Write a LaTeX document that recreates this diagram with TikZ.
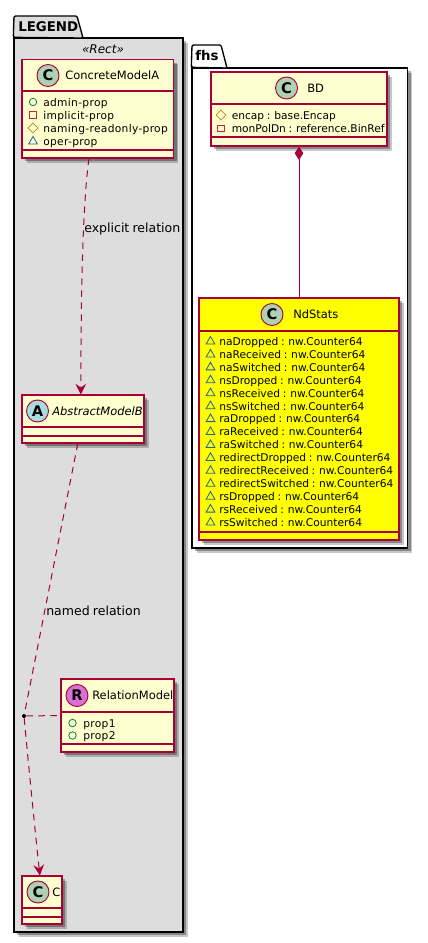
\documentclass[tikz,border=0pt]{standalone}
\usepackage{fontspec}
\setmainfont{DejaVu Sans}[WordSpace=0.8]
\usepackage{xcolor}
\usetikzlibrary{arrows.meta,calc,positioning,shadows,shapes.geometric}
\definecolor{umlred}{HTML}{A80036}
\definecolor{umlfill}{HTML}{FEFECE}
\definecolor{pkggray}{HTML}{DDDDDD}
\definecolor{badgeclass}{HTML}{ADD1B2}
\definecolor{badgeabs}{HTML}{A9DCDF}
\definecolor{badgerel}{HTML}{DA70D6}
\definecolor{pubgreen}{HTML}{038048}
\definecolor{privred}{HTML}{C82930}
\definecolor{protgold}{HTML}{B38D22}
\definecolor{pkgblue}{HTML}{1963A0}
\definecolor{ndyellow}{RGB}{255,255,0}

\begin{document}
\begin{tikzpicture}[
      x=0.75pt, y=-0.75pt,
      softshadow/.style={
        drop shadow={shadow xshift=3.6pt, shadow yshift=-3.6pt, opacity=0.22, fill=black},
        drop shadow={shadow xshift=2.4pt, shadow yshift=-2.4pt, opacity=0.32, fill=black}},
      pkgbox/.style={draw=black, line width=1pt, softshadow},
      pkgtab/.style={draw=black, line width=1pt, rounded corners=1pt},
      pkgname/.style={anchor=west, inner sep=0pt, font=\fontsize{10}{12}\selectfont\bfseries},
      classbox/.style 2 args={draw=umlred, line width=0.8pt, fill=umlfill, softshadow,
        minimum width=#1*0.75pt, minimum height=#2*0.75pt, inner sep=0pt},
      sepline/.style={draw=umlred, line width=0.8pt},
      badge/.style={draw=umlred, line width=0.7pt, circle, minimum size=16.5pt, inner sep=0pt,
        font=\fontsize{11}{11}\selectfont\bfseries},
      classname/.style={anchor=west, inner sep=0pt, font=\fontsize{8.6}{11}\selectfont},
      members/.style={anchor=north west, align=left, inner sep=0pt,
        font=\fontsize{8}{9.7}\selectfont},
      spreadmembers/.style={members, font=\fontsize{8}{9.7}\selectfont\addfontfeature{LetterSpace=3}},
      pubmark/.style={draw=pubgreen, circle, line width=0.6pt, minimum size=5.6pt, inner sep=0pt},
      privmark/.style={draw=privred, rectangle, line width=0.6pt, minimum size=5pt, inner sep=0pt},
      protmark/.style={draw=protgold, diamond, line width=0.6pt, minimum size=7.5pt, inner sep=0pt},
      grpmark/.style={draw=pkgblue, regular polygon, regular polygon sides=3, line width=0.6pt, minimum size=7.6pt, inner sep=0pt},
      rel/.style={draw=umlred, line width=0.75pt},
      dashrel/.style={rel, dash pattern=on 5pt off 4pt},
      openhead/.style={-{Stealth[length=8pt, width=8pt, inset=2.8pt]}},
      rellabel/.style={anchor=west, inner sep=0pt, font=\fontsize{9.4}{11}\selectfont}
    ]
    \useasboundingbox (0,0) rectangle (428,943);

    % LEGEND package
    \node[pkgbox, fill=pkggray, minimum width=169*0.75pt, minimum height=894*0.75pt, inner sep=0pt] (legend) at (98.5,485) {};
    \draw[pkgtab, fill=pkggray] (legend.north west) -- (14,16) -- (77,16) -- (83,38) -- cycle;
    \node[pkgname] (legendname) at (18,27) {LEGEND};
    \node[inner sep=0pt, font=\fontsize{9}{11}\selectfont\itshape] (stereo) at (103,49) {«Rect»};

    % fhs package
    \node[pkgbox, fill=white, minimum width=215.5*0.75pt, minimum height=480*0.75pt, inner sep=0pt] (fhs) at (299.75,308) {};
    \draw[pkgtab, fill=white] (fhs.north west) -- (192,45) -- (221,45) -- (227,68) -- cycle;
    \node[pkgname] (fhsname) at (195,55.5) {fhs};

    % ConcreteModelA
    \node[classbox={151.5}{98.5}] (concretea) at (97.75,108.75) {};
    \draw[sepline] (concretea.west |- 0,91) -- (concretea.east |- 0,91);
    \draw[sepline] (concretea.west |- 0,150) -- (concretea.east |- 0,150);
    \node[badge, fill=badgeclass] (concreteabadge) at (48,75.5) {C};
    \node[classname] (concreteaname) at (65,75.5) {ConcreteModelA};
    \node[pubmark] (concreteapub) at (33,102) {};
    \node[privmark] (concreteapriv) at (33,115) {};
    \node[protmark] (concreteaprot) at (33,128) {};
    \node[grpmark] (concreteagrp) at (33,141.5) {};
    \node[spreadmembers] (concreteamembers) at (43,98) {
      admin-prop\\
      implicit-prop\\
      naming-readonly-prop\\
      oper-prop
    };

    % AbstractModelB
    \node[classbox={122}{48}] (abstractb) at (83,419) {};
    \draw[sepline] (abstractb.west |- 0,427) -- (abstractb.east |- 0,427);
    \draw[sepline] (abstractb.west |- 0,436) -- (abstractb.east |- 0,436);
    \node[badge, fill=badgeabs] (abstractbbadge) at (37.5,411) {A};
    \node[classname, font=\fontsize{8.6}{11}\selectfont\itshape] (abstractbname) at (52,411) {AbstractModelB};

    % RelationModel
    \node[classbox={113}{73}] (relmodel) at (117.5,715.5) {};
    \draw[sepline] (relmodel.west |- 0,712) -- (relmodel.east |- 0,712);
    \draw[sepline] (relmodel.west |- 0,744) -- (relmodel.east |- 0,744);
    \node[badge, fill=badgerel] (relmodelbadge) at (77,695.5) {R};
    \node[classname] (relmodelname) at (92,695.5) {RelationModel};
    \node[pubmark] (relmodelpuba) at (72.5,723) {};
    \node[pubmark] (relmodelpubb) at (72.5,735.5) {};
    \node[spreadmembers] (relmodelmembers) at (83,719) {
      prop1\\
      prop2
    };

    % C
    \node[classbox={40}{48}] (cmodel) at (42,900) {};
    \draw[sepline] (cmodel.west |- 0,908) -- (cmodel.east |- 0,908);
    \draw[sepline] (cmodel.west |- 0,917) -- (cmodel.east |- 0,917);
    \node[badge, fill=badgeclass] (cmodelbadge) at (38,892) {C};
    \node[classname] (cmodelname) at (52,892) {C};

    % BD
    \node[classbox={176}{74}] (bd) at (299,109) {};
    \draw[sepline] (bd.west |- 0,104) -- (bd.east |- 0,104);
    \draw[sepline] (bd.west |- 0,137) -- (bd.east |- 0,137);
    \node[badge, fill=badgeclass] (bdbadge) at (286.5,88) {C};
    \node[classname] (bdname) at (307,88) {BD};
    \node[protmark] (bdprot) at (221,115) {};
    \node[privmark] (bdpriv) at (221,128.5) {};
    \node[members] (bdmembers) at (231.5,111) {
      encap : base.Encap\\
      monPolDn : reference.BinRef
    };

    % NdStats
    \node[classbox={200}{242}, fill=ndyellow] (ndstats) at (299,419) {};
    \draw[sepline] (ndstats.west |- 0,331) -- (ndstats.east |- 0,331);
    \draw[sepline] (ndstats.west |- 0,532) -- (ndstats.east |- 0,532);
    \node[badge, fill=badgeclass] (ndstatsbadge) at (272,314.5) {C};
    \node[classname] (ndstatsname) at (293,314.5) {NdStats};
    \foreach \i in {0,...,14}
      \node[grpmark] (ndstatsgrp\i) at (210.5,{341.5+\i*12.93}) {};
    \node[members] (ndstatsmembers) at (219,337) {
      naDropped : nw.Counter64\\
      naReceived : nw.Counter64\\
      naSwitched : nw.Counter64\\
      nsDropped : nw.Counter64\\
      nsReceived : nw.Counter64\\
      nsSwitched : nw.Counter64\\
      raDropped : nw.Counter64\\
      raReceived : nw.Counter64\\
      raSwitched : nw.Counter64\\
      redirectDropped : nw.Counter64\\
      redirectReceived : nw.Counter64\\
      redirectSwitched : nw.Counter64\\
      rsDropped : nw.Counter64\\
      rsReceived : nw.Counter64\\
      rsSwitched : nw.Counter64
    };

    % relations
    \node[circle, fill=black, minimum size=3pt, inner sep=0pt] (relpoint) at (24,716) {};
    \draw[dashrel, openhead] (concretea.260) .. controls (84,195) and (81,260) .. (abstractb.95);
    \draw[dashrel] (abstractb.258) -- (relpoint);
    \draw[dashrel, openhead] (relpoint) .. controls (29,770) and (35,830) .. (cmodel.95);
    \draw[dashrel] (relpoint) -- (relmodel.west);
    \draw[rel, {Diamond[length=10pt, width=6.5pt]}-] (bd.south) -- (ndstats.north);
    \node[rellabel] (explicitlabel) at (84,229.5) {explicit relation};
    \node[rellabel] (namedlabel) at (46,610.5) {named relation};
  \end{tikzpicture}
\end{document}
